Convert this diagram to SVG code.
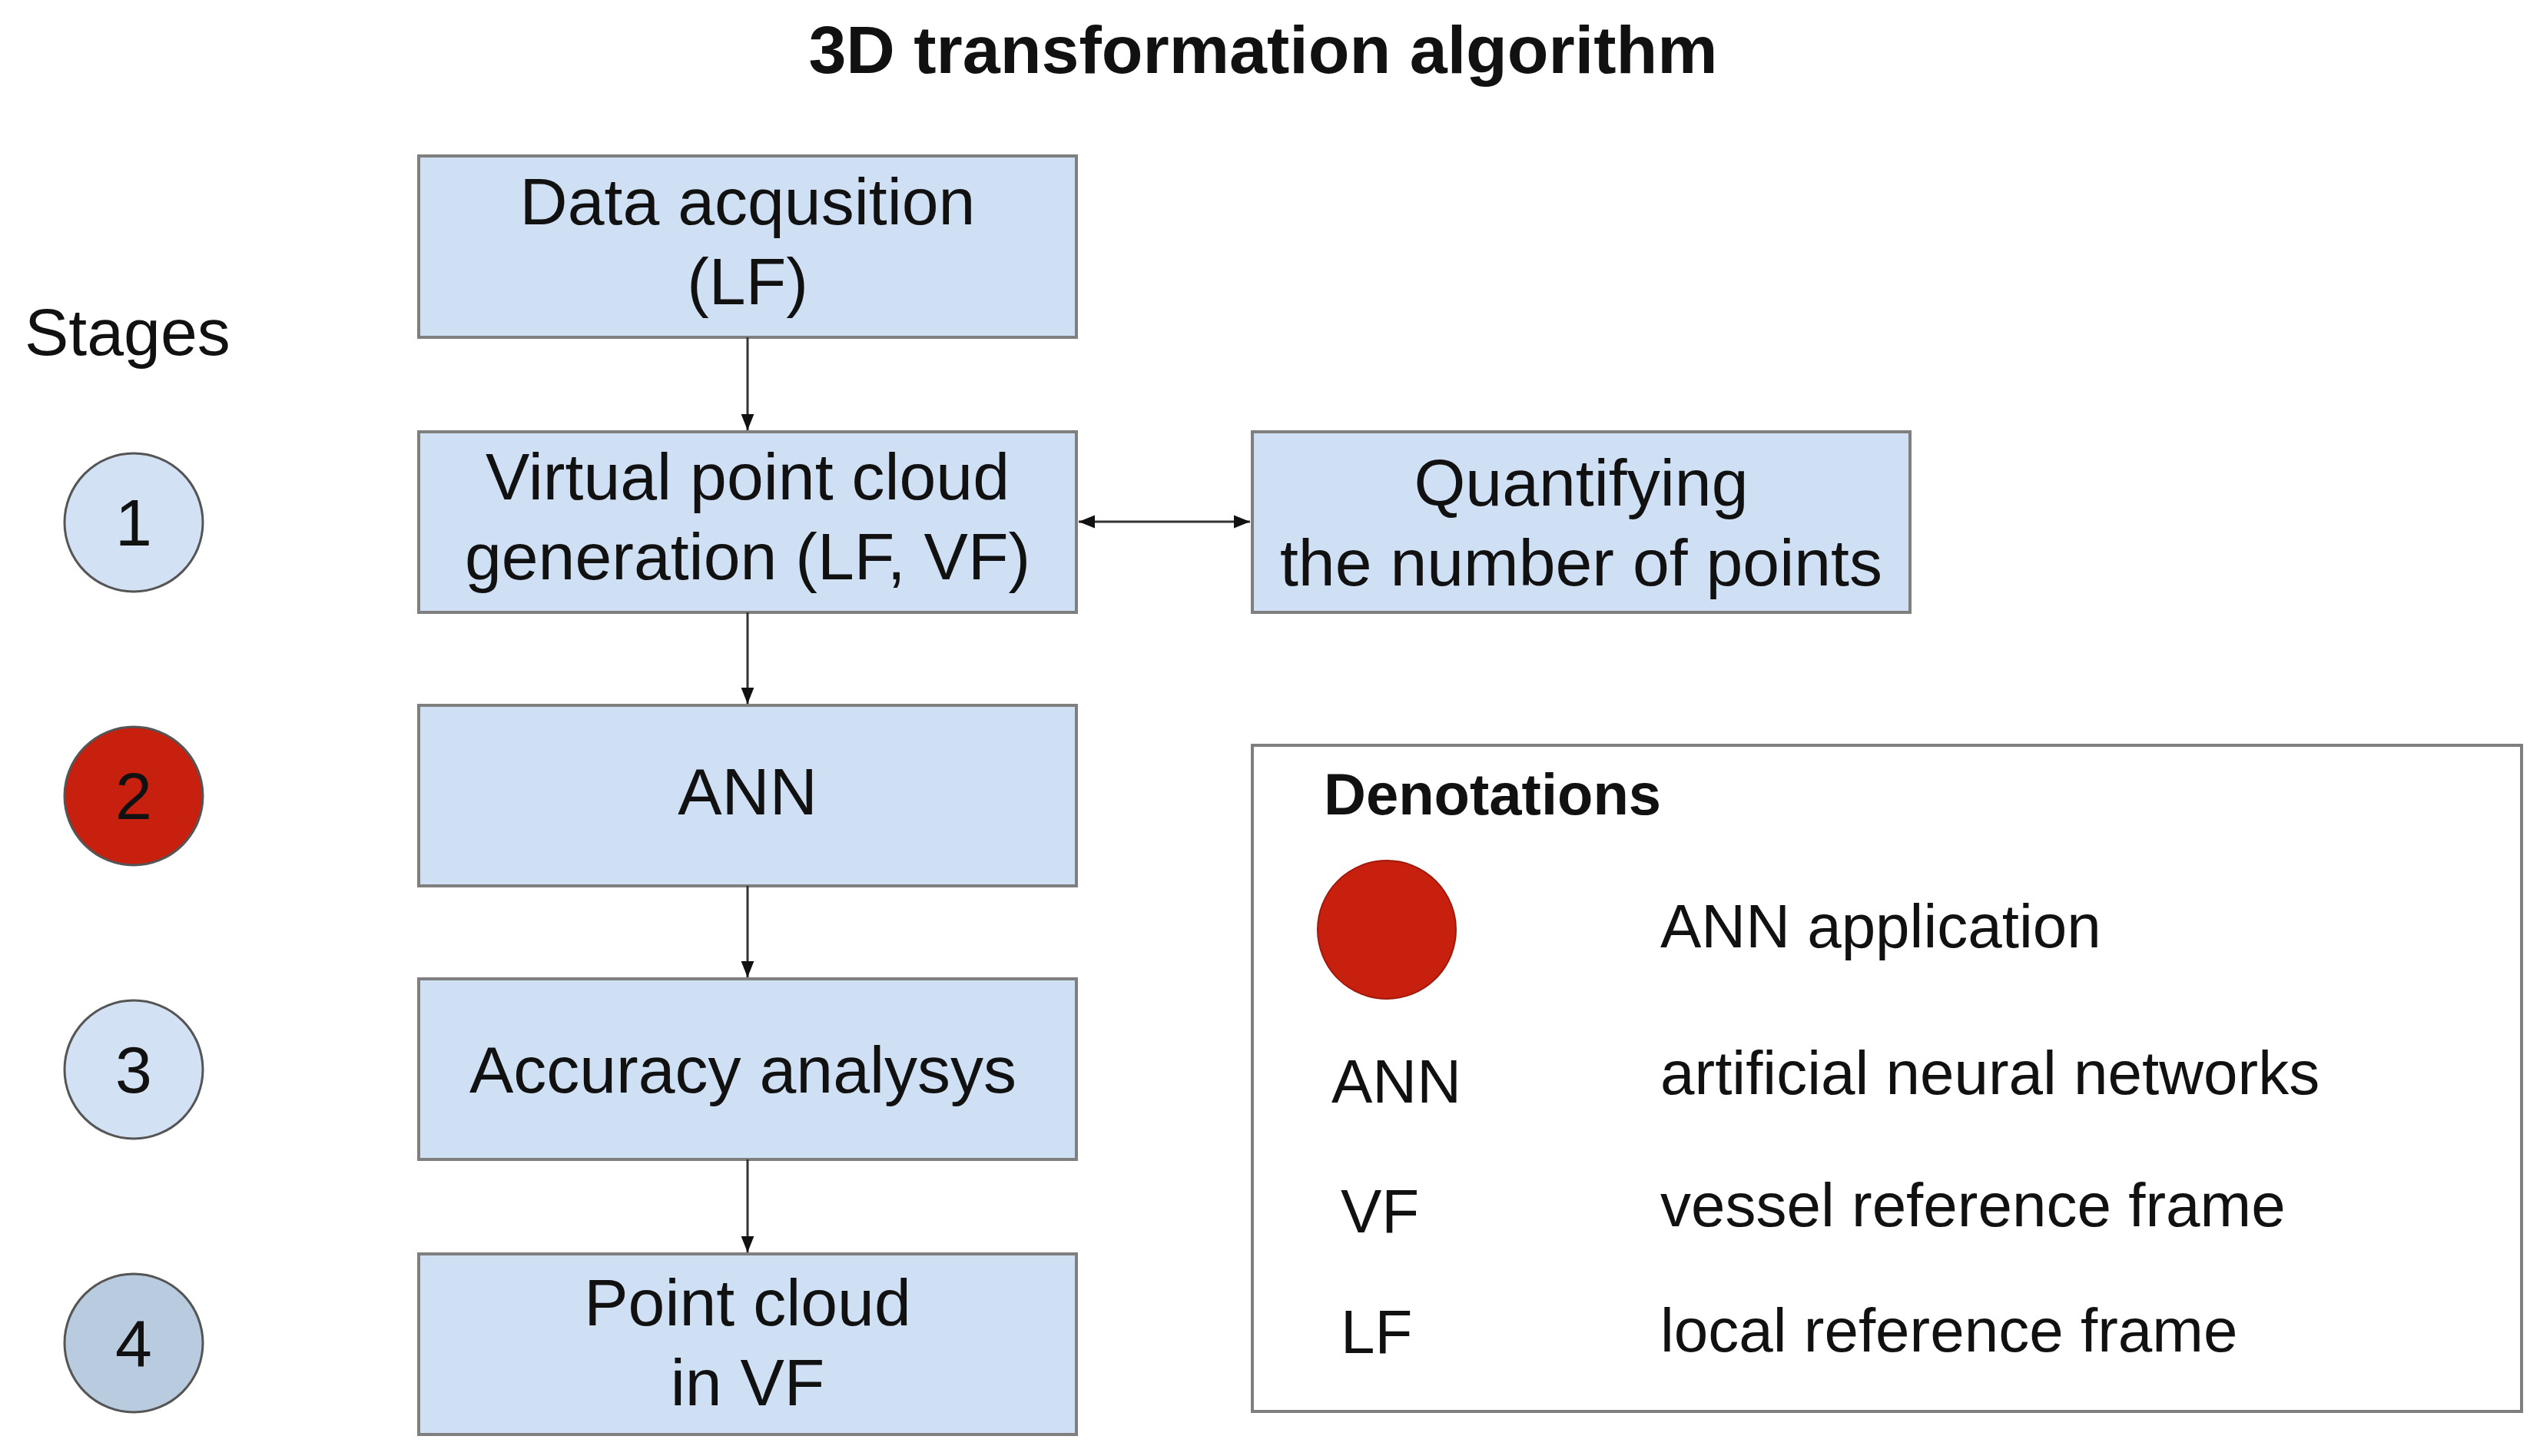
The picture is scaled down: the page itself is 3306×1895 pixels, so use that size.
<svg xmlns="http://www.w3.org/2000/svg" width="3306" height="1895" viewBox="0 0 3306 1895">
<style>
text{font-family:"Liberation Sans",Arial,sans-serif;fill:#111}
.b{fill:#cfe0f4;stroke:#7f7f7f;stroke-width:4}
.t{font-size:86px;text-anchor:middle}
.l{font-size:80px}
.c{stroke:#333;stroke-width:3;fill:none}
</style>
<defs><marker id="a" viewBox="0 0 10 10" refX="10" refY="5" markerWidth="7" markerHeight="7" orient="auto-start-reverse"><path d="M0,1L10,5L0,9z" fill="#111"/></marker></defs>
<rect width="3306" height="1895" fill="#fff"/>
<text x="1644" y="95" font-size="88" font-weight="bold" text-anchor="middle">3D transformation algorithm</text>
<text x="32" y="462" font-size="86">Stages</text>
<g id="s1"><ellipse cx="174" cy="680" rx="90" ry="90" fill="#d2e2f4" stroke="#555" stroke-width="3"/><text class="t" x="174" y="710">1</text></g>
<g id="s2"><ellipse cx="174" cy="1036" rx="90" ry="90" fill="#c8200f" stroke="#555" stroke-width="3"/><text class="t" x="174" y="1066">2</text></g>
<g id="s3"><ellipse cx="174" cy="1392" rx="90" ry="90" fill="#d2e2f4" stroke="#555" stroke-width="3"/><text class="t" x="174" y="1422">3</text></g>
<g id="s4"><ellipse cx="174" cy="1748" rx="90" ry="90" fill="#b9cbdf" stroke="#555" stroke-width="3"/><text class="t" x="174" y="1778">4</text></g>
<g id="n1"><rect class="b" x="545" y="203" width="856" height="236"/><text class="t" x="973" y="292">Data acqusition</text><text class="t" x="973" y="396">(LF)</text></g>
<g id="n2"><rect class="b" x="545" y="562" width="856" height="235"/><text class="t" x="973" y="650">Virtual point cloud</text><text class="t" x="973" y="754">generation (LF, VF)</text></g>
<g id="n3"><rect class="b" x="545" y="918" width="856" height="235"/><text class="t" x="973" y="1060">ANN</text></g>
<g id="n4"><rect class="b" x="545" y="1274" width="856" height="235"/><text class="t" x="967" y="1422">Accuracy analysys</text></g>
<g id="n5"><rect class="b" x="545" y="1632" width="856" height="235"/><text class="t" x="973" y="1725">Point cloud</text><text class="t" x="973" y="1829">in VF</text></g>
<g id="nq"><rect class="b" x="1630" y="562" width="856" height="235"/><text class="t" x="2058" y="658">Quantifying</text><text class="t" x="2058" y="762">the number of points</text></g>
<g id="conn">
<line class="c" x1="973" y1="439" x2="973" y2="560" marker-end="url(#a)"/>
<line class="c" x1="973" y1="797" x2="973" y2="916" marker-end="url(#a)"/>
<line class="c" x1="973" y1="1153" x2="973" y2="1272" marker-end="url(#a)"/>
<line class="c" x1="973" y1="1509" x2="973" y2="1630" marker-end="url(#a)"/>
<line class="c" x1="1404" y1="679" x2="1627" y2="679" marker-start="url(#a)" marker-end="url(#a)"/>
</g>
<g id="legend">
<rect x="1630" y="970" width="1652" height="867" fill="#fff" stroke="#7f7f7f" stroke-width="4"/>
<text x="1723" y="1060" font-size="76" font-weight="bold">Denotations</text>
<ellipse cx="1805" cy="1210" rx="90" ry="90" fill="#c8200f" stroke="#a01a0c" stroke-width="2"/>
<text class="l" x="2161" y="1233">ANN application</text>
<text class="l" x="1733" y="1435">ANN</text><text class="l" x="2161" y="1424">artificial neural networks</text>
<text class="l" x="1745" y="1604">VF</text><text class="l" x="2161" y="1596">vessel reference frame</text>
<text class="l" x="1745" y="1761">LF</text><text class="l" x="2161" y="1759">local reference frame</text>
</g>
</svg>
